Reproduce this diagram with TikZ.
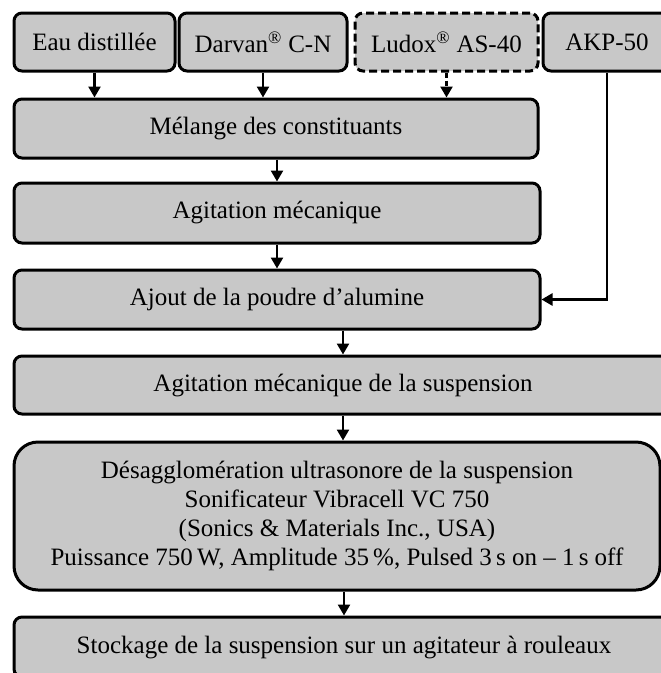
\documentclass[tikz,border=0pt]{standalone}
\usepackage{fontspec}
\setmainfont{Liberation Serif}
\usetikzlibrary{arrows.meta}
\definecolor{boxfill}{RGB}{200,200,200}
\begin{document}
\begin{tikzpicture}[x=1pt,y=-1pt,
  box/.style={draw,line width=3pt,fill=boxfill,rounded corners=8pt,inner sep=0pt,
    font=\fontsize{25}{29}\selectfont,align=center},
  bigbox/.style={box,rounded corners=24pt},
  dashbox/.style={box,dash pattern=on 8pt off 4pt},
  arr/.style={line width=2.5pt,-{Triangle[width=12pt,length=11pt]}},
  dasharr/.style={arr,dash pattern=on 5pt off 3pt}]
\useasboundingbox (0,0) rectangle (661,673);
\clip (0,0) rectangle (661,673);
% top row
\node[box,minimum width=161pt,minimum height=58pt] (eau) at (94.5,42) {Eau distillée};
\node[box,minimum width=168pt,minimum height=58pt] (darvan) at (263,42) {Darvan\textsuperscript{®} C-N};
\node[dashbox,minimum width=183pt,minimum height=58pt] (ludox) at (446.5,42) {Ludox\textsuperscript{®} AS-40};
\node[box,minimum width=128pt,minimum height=58pt] (akp) at (607,42) {AKP-50};
% process boxes
\node[box,minimum width=524pt,minimum height=59pt] (melange) at (276,128.5) {Mélange des constituants};
\node[box,minimum width=526pt,minimum height=60pt] (agit) at (277,213) {Agitation mécanique};
\node[box,minimum width=526pt,minimum height=59pt] (ajout) at (277,299.5) {Ajout de la poudre d’alumine};
\node[box,minimum width=658pt,minimum height=58pt] (susp) at (343,385) {Agitation mécanique de la suspension};
\node[bigbox,minimum width=646pt,minimum height=148pt] (desagg) at (337,516)
  {Désagglomération ultrasonore de la suspension\\
   Sonificateur Vibracell VC 750\\
   (Sonics \& Materials Inc., USA)\\
   Puissance 750\,W, Amplitude 35\,\%, Pulsed 3\,s on – 1\,s off};
\node[box,minimum width=660pt,minimum height=60pt] (stock) at (344,647) {Stockage de la suspension sur un agitateur à rouleaux};
% connectors
\draw[arr] (eau.south) -- (eau.south |- melange.north);
\draw[arr] (darvan.south) -- (darvan.south |- melange.north);
\draw[dasharr] (ludox.south) -- (ludox.south |- melange.north);
\draw[arr] (melange.south -| agit.north) -- (agit.north);
\draw[arr] (agit.south) -- (ajout.north);
\draw[arr] (akp.south) |- (ajout.east);
\draw[arr] (ajout.south -| susp.north) -- (susp.north);
\draw[arr] (susp.south) -- (susp.south |- desagg.north);
\draw[arr] (desagg.south -| stock.north) -- (stock.north);
\end{tikzpicture}
\end{document}
